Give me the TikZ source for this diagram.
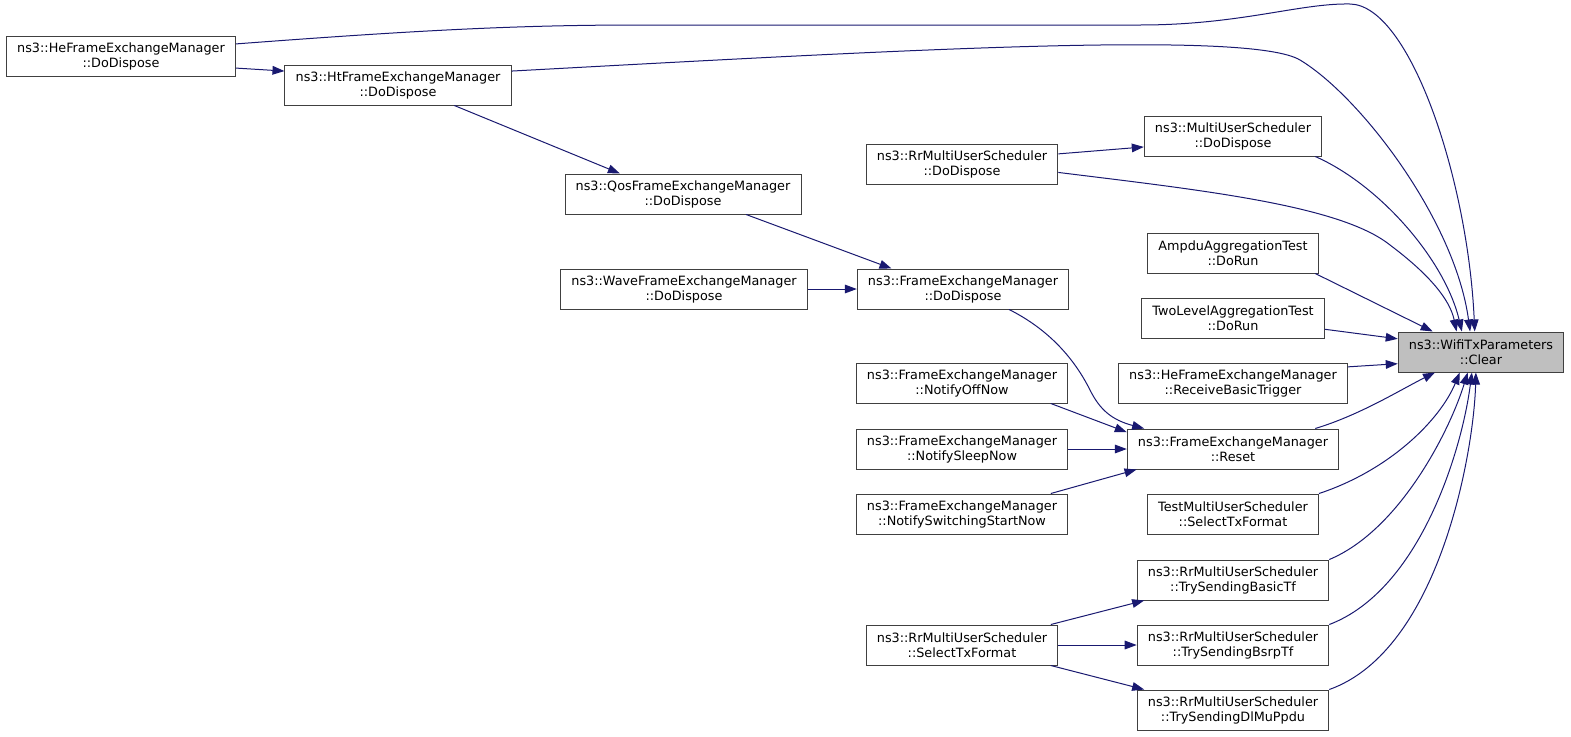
\documentclass[tikz,border=0pt]{standalone}
\usepackage{fontspec}
\setmainfont{DejaVu Sans}
\usetikzlibrary{arrows.meta}

\definecolor{edgeblue}{HTML}{191970}
\definecolor{boxline}{HTML}{404040}
\definecolor{curfill}{HTML}{BFBFBF}

\tikzset{
  fn/.style = {draw = boxline, fill = white, line width = 0.75pt, align = center,
    minimum height = 30pt, inner xsep = 8pt, inner ysep = 2pt,
    font = \fontsize{9.6}{11.3}\selectfont},
  cur/.style = {fn, fill = curfill},
  call/.style = {draw = edgeblue, line width = 0.75pt,
    -{Triangle[length = 9pt, width = 6.5pt]}}
}

\begin{document}
\begin{tikzpicture}[x = 0.75pt, y = -0.75pt]
\useasboundingbox (0,0) rectangle (1571,736);

% callers, left to right
\node[fn] (he) at (121,56) {ns3::HeFrameExchangeManager\\::DoDispose};
\node[fn] (ht) at (398,85) {ns3::HtFrameExchangeManager\\::DoDispose};
\node[fn] (qos) at (683,194) {ns3::QosFrameExchangeManager\\::DoDispose};
\node[fn] (wave) at (684,289) {ns3::WaveFrameExchangeManager\\::DoDispose};
\node[fn] (rrdisp) at (962,164) {ns3::RrMultiUserScheduler\\::DoDispose};
\node[fn] (femdisp) at (963,289) {ns3::FrameExchangeManager\\::DoDispose};
\node[fn] (offnow) at (962,383) {ns3::FrameExchangeManager\\::NotifyOffNow};
\node[fn] (sleepnow) at (962,449) {ns3::FrameExchangeManager\\::NotifySleepNow};
\node[fn] (switchnow) at (962,514) {ns3::FrameExchangeManager\\::NotifySwitchingStartNow};
\node[fn] (rrsel) at (962,645) {ns3::RrMultiUserScheduler\\::SelectTxFormat};
\node[fn] (musdisp) at (1233,136) {ns3::MultiUserScheduler\\::DoDispose};
\node[fn] (ampdu) at (1233,253) {AmpduAggregationTest\\::DoRun};
\node[fn] (twolevel) at (1233,318) {TwoLevelAggregationTest\\::DoRun};
\node[fn] (rcvtrig) at (1233,383) {ns3::HeFrameExchangeManager\\::ReceiveBasicTrigger};
\node[fn] (reset) at (1233,449) {ns3::FrameExchangeManager\\::Reset};
\node[fn] (testsel) at (1233,514) {TestMultiUserScheduler\\::SelectTxFormat};
\node[fn] (basictf) at (1233,580) {ns3::RrMultiUserScheduler\\::TrySendingBasicTf};
\node[fn] (bsrptf) at (1233,645) {ns3::RrMultiUserScheduler\\::TrySendingBsrpTf};
\node[fn] (dlmu) at (1233,710) {ns3::RrMultiUserScheduler\\::TrySendingDlMuPpdu};
\node[cur] (clear) at (1481,352) {ns3::WifiTxParameters\\::Clear};

% calls between callers
\draw[call] (he.-6) -- (ht.173);
\draw[call] (ht.-20) -- (qos.162);
\draw[call] (qos.-18) -- (femdisp.164);
\draw[call] (wave) -- (femdisp);
\draw[call] (femdisp.-24) .. controls (1050,330) and (1075,360) .. (1090,390)
  .. controls (1100,410) and (1112,420) .. (reset.167);
\draw[call] (offnow.-13) -- (reset.171);
\draw[call] (sleepnow) -- (reset);
\draw[call] (switchnow.13) -- (reset.-168);
\draw[call] (rrdisp.6) -- (musdisp.187);
\draw[call] (rrsel.13) -- (basictf.-167);
\draw[call] (rrsel) -- (bsrptf);
\draw[call] (rrsel.-13) -- (dlmu.167);

% calls into Clear
\draw[call] (he.6) .. controls (420,30) and (520,25) .. (640,25) -- (1140,25)
  .. controls (1240,25) and (1300,3) .. (1350,4)
  .. controls (1410,5) and (1468,180) .. (clear.107);
\draw[call] (ht.7) .. controls (900,50) and (1250,30) .. (1300,60)
  .. controls (1360,96) and (1455,220) .. (clear.118);
\draw[call] (rrdisp.-5) .. controls (1200,190) and (1340,205) .. (1390,245)
  .. controls (1430,275) and (1450,300) .. (clear.140);
\draw[call] (musdisp.-14) .. controls (1380,185) and (1445,260) .. (clear.133);
\draw[call] (ampdu.-14) -- (clear.157);
\draw[call] (twolevel.-7) -- (clear.171);
\draw[call] (rcvtrig.8) -- (clear.-172);
\draw[call] (reset.14) .. controls (1360,415) and (1400,390) .. (clear.-156);
\draw[call] (testsel.north east) .. controls (1390,470) and (1440,420) .. (clear.-136);
\draw[call] (basictf.north east) .. controls (1400,530) and (1450,430) .. (clear.-123);
\draw[call] (bsrptf.north east) .. controls (1420,590) and (1462,450) .. (clear.-114);
\draw[call] (dlmu.north east) .. controls (1440,650) and (1474,450) .. (clear.-104);
\end{tikzpicture}
\end{document}
